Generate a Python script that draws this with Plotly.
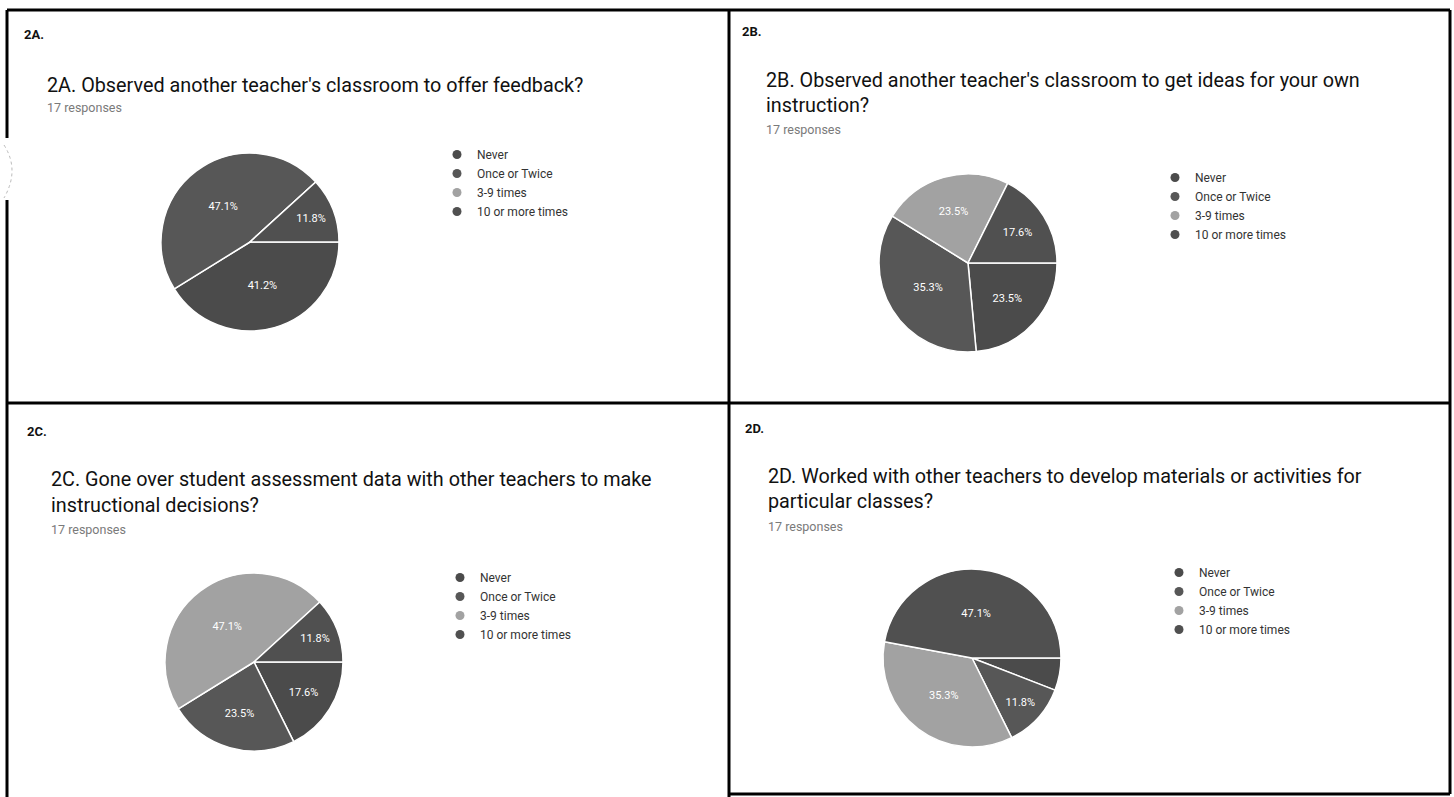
import plotly.graph_objects as go

W, H = 1454, 797

categories = ["Never", "Once or Twice", "3-9 times", "10 or more times"]
colors = ["#4b4b4b", "#575757", "#a2a2a2", "#505050"]

panel_ids = ["2A.", "2B.", "2C.", "2D."]
titles = [
    "2A. Observed another teacher's classroom to offer feedback?",
    "2B. Observed another teacher's classroom to get ideas for your own<br>instruction?",
    "2C. Gone over student assessment data with other teachers to make<br>instructional decisions?",
    "2D. Worked with other teachers to develop materials or activities for<br>particular classes?",
]
responses_text = "17 responses"

# counts out of 17 responses
counts_2a = [7, 8, 0, 2]
counts_2b = [4, 6, 4, 3]
counts_2c = [3, 4, 8, 2]
counts_2d = [1, 2, 6, 8]
all_counts = [counts_2a, counts_2b, counts_2c, counts_2d]

# layout (pixels)
pie_centers = [(250, 242), (968, 263), (254, 662), (972, 658)]
pie_radius = [89, 89, 89, 89]
label_pos = [(22, 34), (740, 32), (25, 431), (743, 429)]
title_pos = [(45, 86), (764, 80), (49, 479), (766, 476)]
title_line_gap = 26
resp_pos = [(45, 107), (764, 129), (49, 529), (766, 526)]
legend_pos = [(437, 140), (1155, 163), (440, 563), (1159, 558)]


def fx(px):
    return px / W


def fy(py):
    return 1 - py / H


fig = go.Figure()

for i, counts in enumerate(all_counts):
    total = sum(counts)
    cx, cy = pie_centers[i]
    r = pie_radius[i]
    tt = ["%{percent:.1%}" if c / total >= 0.1 else "" for c in counts]
    fig.add_trace(go.Pie(
        labels=categories,
        values=counts,
        sort=False,
        direction="clockwise",
        rotation=90,
        marker=dict(colors=colors, line=dict(color="white", width=1.5)),
        texttemplate=tt,
        textposition="inside",
        insidetextorientation="horizontal",
        textfont=dict(color="white", size=11, family="Roboto"),
        showlegend=False,
        hoverinfo="label+percent",
        domain=dict(x=[fx(cx - r), fx(cx + r)], y=[fy(cy + r), fy(cy - r)]),
    ))
    legend_name = "legend" if i == 0 else f"legend{i + 1}"
    for cat, col in zip(categories, colors):
        fig.add_trace(go.Scatter(
            x=[None], y=[None], mode="markers", name=cat,
            marker=dict(symbol="circle", size=9, color=col),
            legend=legend_name, showlegend=True, hoverinfo="skip",
        ))

annotations = []
for i in range(4):
    lx, ly = label_pos[i]
    annotations.append(dict(
        x=fx(lx), y=fy(ly), xref="paper", yref="paper", xanchor="left", yanchor="middle",
        text="<b>" + panel_ids[i] + "</b>", showarrow=False,
        font=dict(family="Roboto", size=13, color="#111111"),
    ))
    tx, ty = title_pos[i]
    for k, line in enumerate(titles[i].split("<br>")):
        annotations.append(dict(
            x=fx(tx), y=fy(ty + k * title_line_gap), xref="paper", yref="paper",
            xanchor="left", yanchor="middle",
            text=line, showarrow=False, align="left",
            font=dict(family="Roboto", size=19.8, color="#111111"),
        ))
    rx, ry = resp_pos[i]
    annotations.append(dict(
        x=fx(rx), y=fy(ry), xref="paper", yref="paper", xanchor="left", yanchor="middle",
        text=responses_text, showarrow=False,
        font=dict(family="Roboto", size=12.5, color="#7a7a7a"),
    ))

line_style = dict(color="black", width=3)
shapes = [
    # outer border
    dict(type="line", xref="paper", yref="paper", x0=fx(7), x1=fx(1450), y0=fy(10), y1=fy(10), line=line_style),
    dict(type="line", xref="paper", yref="paper", x0=fx(1450), x1=fx(1450), y0=fy(10), y1=fy(794), line=line_style),
    dict(type="line", xref="paper", yref="paper", x0=fx(729), x1=fx(1450), y0=fy(794), y1=fy(794), line=line_style),
    dict(type="line", xref="paper", yref="paper", x0=fx(7), x1=fx(7), y0=fy(10), y1=fy(138), line=line_style),
    dict(type="line", xref="paper", yref="paper", x0=fx(7), x1=fx(7), y0=fy(200), y1=fy(797), line=line_style),
    # dividers
    dict(type="line", xref="paper", yref="paper", x0=fx(729), x1=fx(729), y0=fy(10), y1=fy(797), line=line_style),
    dict(type="line", xref="paper", yref="paper", x0=fx(7), x1=fx(1450), y0=fy(403), y1=fy(403), line=line_style),
    # faint hole-punch arc
    dict(type="path", xref="paper", yref="paper",
         path=f"M {fx(4)},{fy(145)} Q {fx(20)},{fy(170)} {fx(4)},{fy(198)}",
         line=dict(color="#bbbbbb", width=1, dash="dot")),
]

layout_legends = {}
for i in range(4):
    key = "legend" if i == 0 else f"legend{i + 1}"
    lx, ly = legend_pos[i]
    layout_legends[key] = dict(
        x=fx(lx), y=fy(ly), xanchor="left", yanchor="top",
        font=dict(family="Roboto", size=12, color="#333333"),
        bgcolor="rgba(0,0,0,0)", itemclick=False, itemdoubleclick=False,
    )

fig.update_layout(
    width=W, height=H,
    margin=dict(l=0, r=0, t=0, b=0),
    paper_bgcolor="white", plot_bgcolor="white",
    xaxis=dict(visible=False), yaxis=dict(visible=False),
    annotations=annotations, shapes=shapes,
    **layout_legends,
)

fig.write_html("out.html")
